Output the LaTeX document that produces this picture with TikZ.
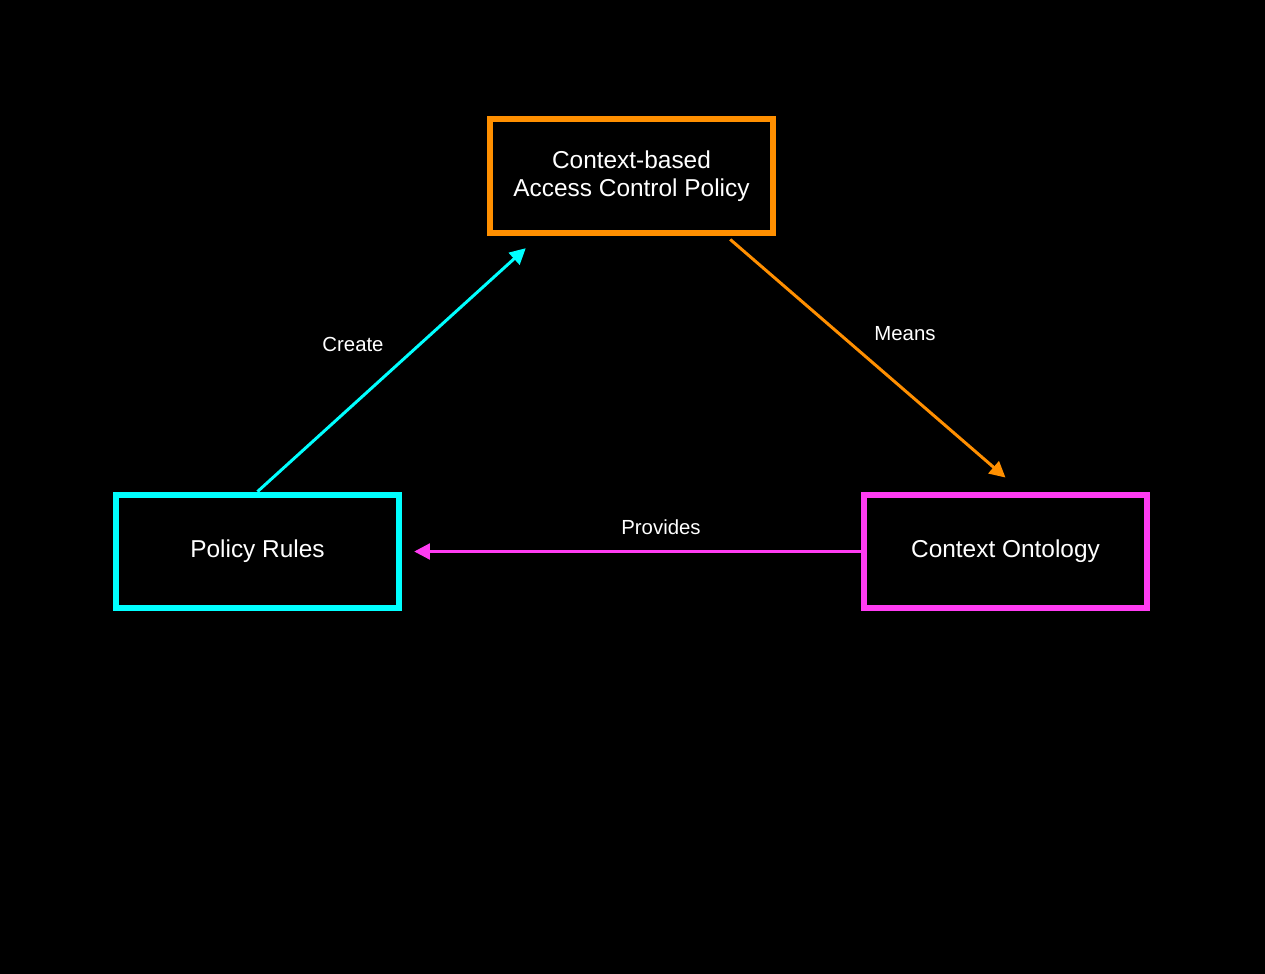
\documentclass[tikz,border=0pt]{standalone}
\usepackage{fontspec}
\setmainfont{Liberation Sans}
\usepackage{tikz}
\usetikzlibrary{positioning, arrows.meta, calc}
\definecolor{PolicyOrange}{HTML}{FF8F00}
\definecolor{RuleCyan}{HTML}{00FFFF}
\definecolor{OntoPink}{HTML}{FF3CF2}

\begin{document}
\begin{tikzpicture}[
      x=0.02cm, y=-0.02cm,
      box/.style={line width=3.6pt, minimum width=5.65cm, minimum height=2.27cm,
        text=white, align=center, font=\fontsize{13.9}{16}\selectfont},
      link/.style={line width=1.7pt, -{Triangle[length=9pt, width=9pt]}},
      tag/.style={text=white, font=\fontsize{11.6}{14}\selectfont}
  ]
    \fill[black] (0,0) rectangle (1265,974);
    \useasboundingbox (0,0) rectangle (1265,974);

    \node[box, draw=PolicyOrange](policy) at (631.5,176) {Context-based\\Access Control Policy};
    \node[box, draw=RuleCyan](rules) at (257.5,551.5) {Policy Rules};
    \node[box, draw=OntoPink](onto) at (1005.5,551.5) {Context Ontology};

    \draw[link, RuleCyan] (rules.north) -- ([xshift=22pt, yshift=-7pt]policy.south west);
    \draw[link, PolicyOrange] ([xshift=-26pt, yshift=-2pt]policy.south east) -- ([yshift=8pt]onto.north);
    \draw[link, OntoPink] (onto.west) -- ([xshift=7pt]rules.east);

    \node[tag](create) at (353,344) {Create};
    \node[tag](means) at (905,334) {Means};
    \node[tag](provides) at (661,527) {Provides};
  \end{tikzpicture}
\end{document}
